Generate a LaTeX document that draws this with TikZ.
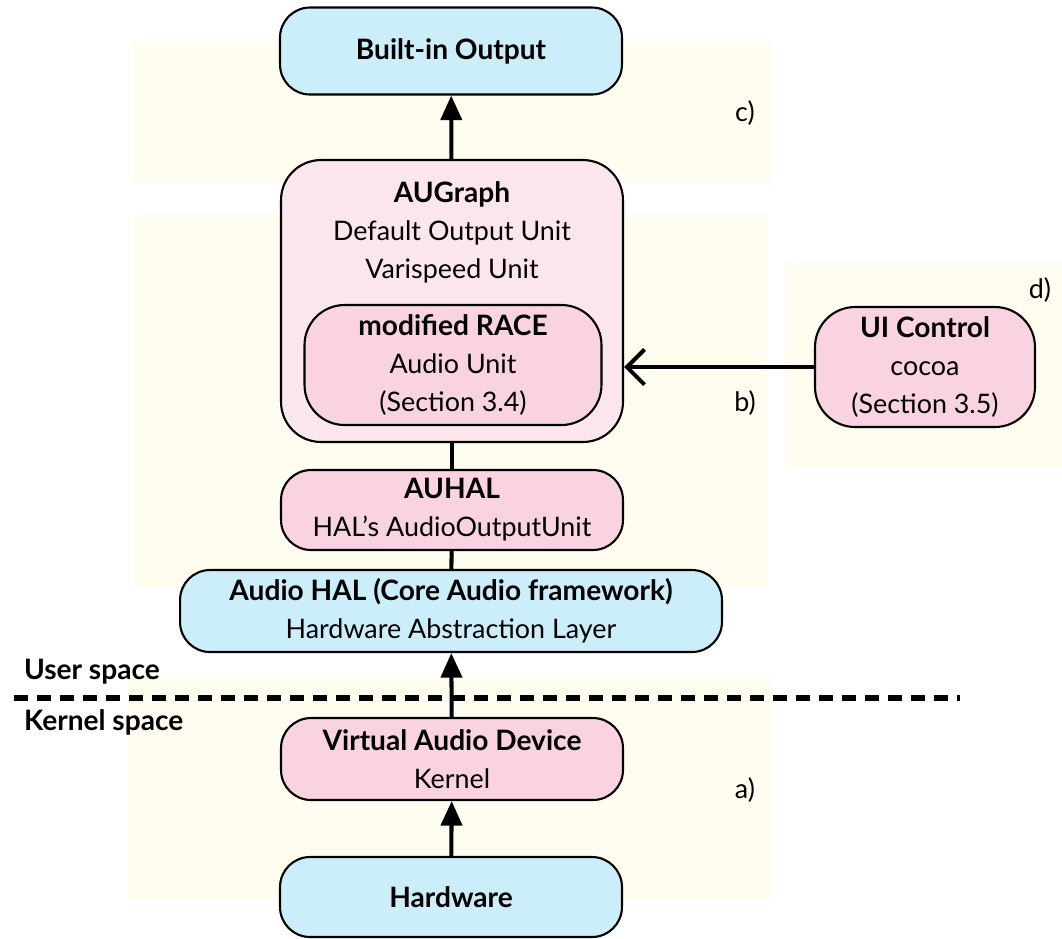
\documentclass[tikz,border=0pt]{standalone}
\usepackage{fontspec}
\setmainfont{Lato}
\usetikzlibrary{arrows.meta, positioning}

\definecolor{boxblue}{HTML}{CCEEFB}
\definecolor{pinklight}{HTML}{FCE6EE}
\definecolor{pinkdark}{HTML}{F9D3E0}
\definecolor{areayellow}{HTML}{FFFDEF}

\newcommand{\hd}[1]{{\fontsize{16pt}{21.5pt}\selectfont\bfseries #1}}

\begin{document}
\begin{tikzpicture}[x=0.02cm, y=-0.02cm, >={Triangle[width=12pt,length=14pt]},
                    line width=2.3pt]
\tikzstyle{every node}=[font=\fontsize{15.3pt}{21.5pt}\selectfont]
\tikzstyle{unit}=[draw=black, line width=1.2pt, rounded corners=0.6cm, align=center,
                  minimum width=6.84cm, minimum height=1.64cm]
\tikzstyle{arealabel}=[inner sep=1pt]

\useasboundingbox (0,0) rectangle (1062,938);

  % shaded areas a) to d)
  \fill[areayellow] (133,42)  rectangle (772,183);
  \fill[areayellow] (133,215) rectangle (767,588);
  \fill[areayellow] (785,263) rectangle (1062,468);
  \fill[areayellow] (128,678) rectangle (772,900);

        \node[unit, fill=boxblue, minimum height=1.74cm]                       (out)     at (451,51)  {\hd{Built-in Output}};
        \node[unit, fill=pinklight, minimum height=5.64cm, rounded corners=0.8cm] (augraph) at (452,301) {};
        \node[align=center]                                                     (augraphtxt) [below=0.3cm of augraph.north] {\hd{AUGraph}\\Default Output Unit\\Varispeed Unit};
        \node[unit, fill=pinkdark, minimum width=5.94cm, minimum height=2.4cm, rounded corners=0.8cm] (race) at (453,365) {\hd{modified RACE}\\Audio Unit\\(Section 3.4)};
        \node[unit, fill=pinkdark, minimum height=1.6cm]                       (auhal)   at (452,510) {\hd{AUHAL}\\HAL's AudioOutputUnit};
        \node[unit, fill=boxblue, minimum width=10.84cm]                       (hal)     at (451,611) {\hd{Audio HAL (Core Audio framework)}\\Hardware Abstraction Layer};
        \node[unit, fill=pinkdark]                                             (vad)     at (452,759) {\hd{Virtual Audio Device}\\Kernel};
        \node[unit, fill=boxblue, minimum height=1.6cm]                        (hw)      at (451,897) {\hd{Hardware}};
        \node[unit, fill=pinkdark, minimum width=4.4cm, minimum height=2.4cm, rounded corners=0.8cm] (ui) at (925,367) {\hd{UI Control}\\cocoa\\(Section 3.5)};

        \node[arealabel] (a) at (745,790) {a)};
        \node[arealabel] (b) at (745,403) {b)};
        \node[arealabel] (c) at (745,113) {c)};
        \node[arealabel] (d) at (1040,290) {d)};

        \node[anchor=west, inner sep=0pt] (user)   at (22,672) {\hd{User space}};
        \node[anchor=west, inner sep=0pt] (kernel) at (22,722) {\hd{Kernel space}};

        \coordinate (sepL) at (14,698);
        \coordinate (sepR) at (960,698);
        \draw[line width=3pt, dash pattern=on 0.28cm off 0.18cm] (sepL) -- (sepR);

        \path[->]
        (augraph) edge node {}      (out)
        (vad)     edge node {}      (hal)
        (hw)      edge node {}      (vad)
        ; %end path

        \path
        (augraph) edge node {}      (auhal)
        (auhal)   edge node {}      (hal)
        ; %end path

        \draw[-{Straight Barb[length=10pt,width=20pt]}] (ui.west) -- (augraph.east |- ui.west);

\end{tikzpicture}
\end{document}
